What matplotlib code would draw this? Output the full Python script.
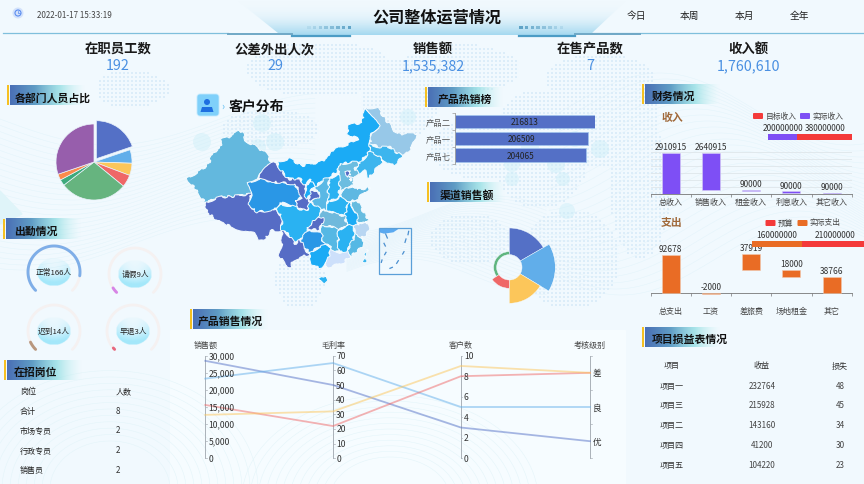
import numpy as np
import matplotlib
matplotlib.use('Agg')
import matplotlib.pyplot as plt
from matplotlib.patches import Polygon, Circle, FancyBboxPatch, Rectangle
from matplotlib.colors import to_rgb

plt.rcParams['font.family'] = ['Noto Sans CJK SC', 'DejaVu Sans']

W, H = 864, 485

# numbers at the top of the board
kpi_names = ['在职员工数', '公差外出人次', '销售额', '在售产品数', '收入额']
kpi_values = ['192', '29', '1,535,382', '7', '1,760,610']
periods = ['今日', '本周', '本月', '全年']

# department share pie
dept_people = [38, 11, 10, 10, 55, 5, 5, 58]
dept_colors = ['#5470c6', '#61aeea', '#fcc65a', '#ef6767', '#66b47f', '#3daa7c', '#fb8b4c', '#975eac']

# attendance
att_names = ['正常', '请假', '迟到', '早退']
att_values = [166, 9, 14, 3]
att_total = 192
att_colors = ['#7eaee8', '#d784e6', '#b8977e', '#e8687e']

# open positions
job_head = ['岗位', '人数']
job_names = ['合计', '市场专员', '行政专员', '销售员']
job_counts = [8, 2, 2, 2]

# hot products
hot_names = ['产品二', '产品一', '产品七']
hot_values = [216813, 206509, 204065]

# channel rose
channel_radius = [39.3, 46, 36, 21, 15.7]
channel_angle = [60, 61, 59, 55, 125]
channel_colors = ['#5470c6', '#61aeea', '#fcc65a', '#ef6767', '#5fb57f']

# income waterfall
income_names = ['总收入', '销售收入', '租金收入', '利息收入', '其它收入']
income_values = [2910915, 2640915, 90000, 90000, 90000]
income_bottoms = [0, 270000, 180000, 90000, 0]
income_target = 200000000
income_actual = 380000000

# expense waterfall
cost_names = ['总支出', '工资', '差旅费', '场地租金', '其它']
cost_labels = [92678, -2000, 37919, 18000, 38766]
cost_bottoms = [0, -2000, 56759, 38766, 0]
cost_tops = [92678, 0, 94678, 56766, 38766]
cost_budget = 160000000
cost_actual = 210000000

# parallel chart
par_names = ['销售额', '毛利率', '客户数', '考核级别']
par_max = [30000, 70, 10]
par_blue = [28500, 50, 3, '优']
par_light = [23300, 65, 5, '良']
par_red = [15600, 22, 8, '差']
par_yellow = [12700, 32, 9, '差']
par_levels = ['优', '良', '差']
par_ticks = [[0, 5000, 10000, 15000, 20000, 25000, 30000], [0, 10, 20, 30, 40, 50, 60, 70], [0, 2, 4, 6, 8, 10]]

# project table
proj_head = ['项目', '收益', '损失']
proj_names = ['项目一', '项目三', '项目二', '项目四', '项目五']
proj_income = [232764, 215928, 143160, 41200, 104220]
proj_loss = [48, 45, 34, 30, 23]

# province outlines
provinces = {
    '新疆': ('#63b8de', [(22,280),(60,262),(85,240),(100,205),(120,195),(125,165),(160,155),(175,135),(190,150),(195,170),(225,185),(255,205),(275,235),(240,270),(235,285),(205,295),(215,330),(180,335),(120,340),(75,355),(50,320),(25,290)]),
    '西藏': ('#566cc5', [(75,355),(120,340),(180,335),(215,330),(205,360),(230,385),(290,375),(305,400),(305,440),(275,440),(255,465),(235,468),(220,445),(170,435),(120,415),(80,385)]),
    '青海': ('#2a97e6', [(205,295),(235,285),(290,295),(345,300),(365,340),(345,350),(360,375),(330,365),(300,355),(290,375),(230,385),(205,360),(215,330)]),
    '甘肃': ('#566cc5', [(275,235),(290,230),(295,250),(325,285),(360,285),(378,310),(375,335),(392,355),(380,380),(360,375),(345,350),(365,340),(345,300),(290,295),(235,285),(240,270)]),
    '甘肃东': ('#566cc5', [(393,320),(415,318),(418,340),(395,352),(385,345)]),
    '内蒙古': ('#1babf5', [(290,232),(330,225),(365,245),(420,235),(450,215),(455,200),(495,185),(535,165),(500,150),(505,125),(545,115),(555,72),(575,90),(585,100),(600,125),(575,150),(570,180),(568,205),(540,235),(510,235),(480,240),(470,265),(435,285),(403,310),(390,285),(378,308),(360,285),(325,285),(295,250)]),
    '黑龙江': ('#97c8e8', [(555,72),(590,70),(620,110),(650,150),(710,148),(695,190),(668,218),(650,205),(630,190),(600,190),(570,180),(575,150),(600,125),(585,100)]),
    '吉林': ('#3cb5ee', [(570,180),(600,190),(630,190),(650,205),(668,218),(640,245),(610,228),(590,212),(568,205)]),
    '辽宁': ('#3cb5ee', [(540,235),(568,205),(590,212),(610,228),(585,258),(565,285),(560,260),(545,262),(532,270),(525,255)]),
    '河北': ('#6cbde0', [(480,240),(510,235),(540,235),(525,255),(535,270),(520,285),(515,295),(520,305),(495,312),(480,318),(478,290),(475,268)]),
    '北京': ('#566cc5', [(498,262),(510,258),(514,272),(502,276)]),
    '天津': ('#566cc5', [(510,278),(518,280),(516,292),(508,290)]),
    '山西': ('#2ab2f2', [(447,285),(475,268),(478,290),(480,318),(470,345),(442,352),(445,320)]),
    '陕西': ('#5ab8e5', [(403,310),(435,285),(447,285),(445,320),(442,352),(442,378),(425,378),(392,355),(418,340),(415,318)]),
    '宁夏': ('#1babf5', [(378,308),(390,285),(403,310),(393,320),(385,345),(375,335)]),
    '河南': ('#2ab2f2', [(442,352),(470,345),(480,340),(490,340),(510,355),(500,372),(495,395),(470,392),(442,378)]),
    '山东': ('#5eb8e2', [(495,312),(520,305),(530,318),(572,310),(545,332),(530,345),(510,355),(490,340),(480,340),(490,325)]),
    '江苏': ('#66bce0', [(510,355),(530,345),(545,375),(565,405),(558,410),(535,420),(530,395),(522,375)]),
    '安徽': ('#1babf5', [(510,355),(522,375),(530,395),(535,420),(520,430),(500,422),(495,395),(500,372)]),
    '湖北': ('#6fb9dc', [(425,378),(442,378),(470,392),(495,395),(500,422),(475,440),(450,425),(425,425),(415,395)]),
    '重庆': ('#566cc5', [(392,395),(415,395),(430,405),(425,425),(412,440),(395,435),(380,430),(395,418)]),
    '四川': ('#2ab2f2', [(300,360),(330,365),(360,375),(380,380),(392,355),(425,378),(415,395),(395,418),(380,430),(385,445),(362,465),(345,480),(330,460),(315,440),(305,440),(305,400),(290,375)]),
    '贵州': ('#2a97e6', [(385,440),(412,440),(425,445),(428,470),(445,482),(415,490),(390,505),(370,490),(362,465)]),
    '云南': ('#566cc5', [(305,440),(315,440),(330,460),(345,480),(362,465),(370,490),(388,512),(360,520),(340,530),(330,550),(315,540),(295,510),(305,480)]),
    '广西': ('#1babf5', [(390,505),(415,490),(445,482),(455,495),(445,520),(435,545),(415,552),(395,540),(388,515)]),
    '广东': ('#cde0fb', [(455,495),(480,505),(500,500),(515,515),(490,535),(460,545),(435,552),(445,520)]),
    '湖南': ('#55b8e4', [(425,425),(450,425),(475,440),(475,490),(480,505),(455,495),(445,482),(428,470),(425,445)]),
    '江西': ('#2ab2f2', [(475,440),(500,422),(520,430),(527,450),(515,475),(502,500),(480,505),(475,490)]),
    '浙江': ('#b8d6f2', [(535,420),(558,410),(568,440),(550,462),(527,450),(520,430)]),
    '福建': ('#55b8e4', [(527,450),(550,462),(545,490),(515,515),(502,500),(515,475)]),
    '台湾': ('#3cb5ee', [(560,497),(566,500),(556,535),(548,530)]),
    '海南': ('#2ab2f2', [(420,580),(440,572),(443,585),(430,598),(418,592)]),
}

# headers of the panels: text, x of yellow bar, top of tab, x of text
tabs = [('各部门人员占比', 7, 86, 15), ('出勤情况', 3, 220, 14), ('在招岗位', 4, 361, 14), ('产品销售情况', 190, 310, 198),
        ('产品热销榜', 425, 88, 438), ('渠道销售额', 427, 183, 440), ('财务情况', 642, 85, 652), ('项目损益表情况', 642, 328, 652)]
att_centers = [(54, 273), (135, 275), (54, 332), (133, 332)]


def px_axes(x0, y0, x1, y1, **kw):
    a = fig.add_axes([x0 / W, 1 - y1 / H, (x1 - x0) / W, (y1 - y0) / H], **kw)
    a.patch.set_alpha(0)
    return a


def grad(stops, horizontal=True, n=128):
    # stops are (colour, alpha)
    t = np.linspace(0, len(stops) - 1, n)
    rgba = np.zeros((n, 4))
    for k in range(4):
        vals = [(list(to_rgb(c)) + [al])[k] for c, al in stops]
        rgba[:, k] = np.interp(t, np.arange(len(stops)), vals)
    return rgba[None, :, :] if horizontal else rgba[:, None, :]


fig = plt.figure(figsize=(W / 100, H / 100), dpi=100, facecolor='#f1f9fe')
bg = fig.add_axes([0, 0, 1, 1])
bg.axis('off')

# soft waves and lighter panels in the background
xs = np.linspace(0, W, 300)
for i in range(26):
    bg.plot(xs[:110], 120 + i * 5 + 26 * np.sin(xs[:110] / 70 + i * .05), color='#cdebf6', lw=.35, alpha=.4, zorder=1)
    bg.plot(xs[190:], 110 + i * 6 + 36 * np.sin(xs[190:] / 60 - i * .1), color='#cdebf6', lw=.35, alpha=.4, zorder=1)
    bg.plot(xs[120:190], 215 + i * 2.5 + 18 * np.sin(xs[120:190] / 45 + i * .08), color='#d6edf7', lw=.35, alpha=.5, zorder=1)
bg.add_patch(Polygon([(0, 192), (22, 215), (0, 225)], color='#dff4f9', zorder=1))
bg.add_patch(Rectangle((170, 331), 455, 154, color='#f6fcff', zorder=1.2))
for rr in range(60, 150, 8):
    th = np.linspace(np.pi, 2 * np.pi, 80)
    bg.plot(110 + rr * np.cos(th), 490 + rr * np.sin(th) * .8, color='#e2f4f9', lw=.35, zorder=1.3)
    bg.plot(390 + rr * np.cos(th), 500 + rr * np.sin(th) * .7, color='#e2f4f9', lw=.35, zorder=1.3)

# dotted world map behind everything
blobs = [(320, 70, 75, 28), (400, 100, 40, 40), (270, 130, 50, 20), (460, 70, 60, 25), (540, 150, 50, 60), (600, 120, 60, 50),
         (640, 190, 30, 70), (480, 150, 50, 30), (570, 260, 50, 50), (300, 280, 25, 30), (130, 90, 40, 18), (470, 240, 40, 25), (600, 80, 55, 25)]
gx, gy = np.meshgrid(np.arange(100, 680, 4), np.arange(38, 330, 4))
mask = np.zeros(gx.shape, dtype=bool)
for cx, cy, rx, ry in blobs:
    mask |= ((gx - cx) / rx) ** 2 + ((gy - cy) / ry) ** 2 < 1
bg.scatter(gx[mask], gy[mask], s=3, marker='s', color='#dcedf9', lw=0, zorder=1.5)
for cx, cy, r in [(262, 124, 9), (202, 143, 9), (275, 143, 9), (258, 148, 8), (408, 118, 8), (512, 165, 8), (600, 150, 9), (575, 140, 8),
                  (567, 212, 8), (512, 180, 7), (556, 165, 9), (530, 148, 9), (563, 180, 7)]:
    bg.add_patch(Circle((cx, cy), r, color='#c8edf7', alpha=.4, lw=0, zorder=1.6))

# title banner
band = bg.imshow(grad([('#f1f9fe', 0), ('#dcf0fa', .7), ('#a4d9f0', 1)], horizontal=False), extent=[230, 640, 36, 2], aspect='auto', zorder=2)
band.set_clip_path(Polygon([(238, 2), (278, 34), (292, 36), (575, 36), (592, 34), (626, 2)], transform=bg.transData))
bg.plot([3, 228], [34, 34], color='#7fbfdc', lw=.9, zorder=3)
bg.plot([592, 864], [34, 34], color='#7fbfdc', lw=.9, zorder=3)
bg.plot([228, 292], [34.5, 34.5], color='#6fa8c6', lw=1.4, zorder=3)
bg.plot([292, 350], [36.5, 36.5], color='#4b9cc5', lw=1.6, zorder=3)
bg.plot([519, 575], [36.5, 36.5], color='#4b9cc5', lw=1.6, zorder=3)
bg.plot([575, 640], [34.5, 34.5], color='#6fa8c6', lw=1.4, zorder=3)
for i in range(8):
    bg.add_patch(Rectangle((307 + i * 5.8, 26.5), 3.6, 3.6, color='#5aa0c4', alpha=.15 + i * .11, lw=0, zorder=3))
    bg.add_patch(Rectangle((519 + i * 5.8, 26.5), 3.6, 3.6, color='#5aa0c4', alpha=.95 - i * .11, lw=0, zorder=3))

bg.add_patch(Circle((18, 14), 5.5, color='#d3e2fb', lw=0, zorder=3))
bg.add_patch(Circle((18, 14), 3, fc='none', ec='#5a8df0', lw=.8, zorder=4))
bg.plot([18, 18, 19.5], [12.3, 14, 14], color='#5a8df0', lw=.5, zorder=4)
bg.text(37, 15, '2022-01-17 15:33:19', fontsize=5.8, color='#444444', va='center', zorder=5)
bg.text(437, 18, '公司整体运营情况', fontsize=11.6, fontweight='bold', color='#111111', ha='center', va='center', zorder=5)
for name, x in zip(periods, [636, 689, 744, 799]):
    bg.text(x, 16, name, fontsize=7, color='#222222', fontweight='medium', ha='center', va='center', zorder=5)
for name, val, x in zip(kpi_names, kpi_values, [118, 275, 433, 590, 748]):
    bg.text(x, 49, name, fontsize=9.6, fontweight='bold', color='#1a1a1a', ha='center', va='center', zorder=5)
    bg.text(x, 66, val, fontsize=10.3, color='#4a90e2', fontweight='medium', ha='center', va='center', zorder=5)

# panel tabs
for text, bx, ty, tx in tabs:
    bg.imshow(grad([('#4a6fb5', 1), ('#5f9cc5', 1), ('#8fdde2', .75), ('#c9f2f2', 0)]), extent=[bx + 3, bx + 78, ty + 20, ty], aspect='auto', zorder=2.5)
    bg.add_patch(Rectangle((bx, ty), 2, 20, color='#f5c022', lw=0, zorder=3))
    bg.text(tx, ty + 12, text, fontsize=7.8, color='#111111', fontweight='bold', va='center', zorder=5)

# pie
ax = px_axes(94 - 45, 163 - 45, 94 + 45, 163 + 45)
ax.pie(dept_people, colors=dept_colors, startangle=90, counterclock=False, radius=38 / 45,
       explode=[.09] + [0] * 7, wedgeprops={'edgecolor': '#eaf3fb', 'linewidth': .5})
ax.set_xlim(-1, 1)
ax.set_ylim(-1, 1)

# attendance gauges
for name, val, color, (cx, cy) in zip(att_names, att_values, att_colors, att_centers):
    th = np.radians(225 - 270 * np.linspace(0, 1, 80))
    bg.plot(cx + 26 * np.cos(th), cy - 26 * np.sin(th), color='#f5f1f1', lw=2, solid_capstyle='round', zorder=3)
    th = np.radians(225 - 270 * np.linspace(0, max(val / att_total, .008), 80))
    bg.plot(cx + 26 * np.cos(th), cy - 26 * np.sin(th), color=color, lw=2.1, solid_capstyle='round', zorder=3.2)
    yy, xx = np.mgrid[-1:1:60j, -1:1:60j]
    rr = np.sqrt(xx ** 2 + yy ** 2)
    disk = np.zeros((60, 60, 4))
    disk[..., :3] = to_rgb('#9be6fa')
    disk[..., 3] = np.clip(rr * .45 + (yy + .3) * .55, 0, .9) * (rr < 1)
    bg.imshow(disk, extent=[cx - 17, cx + 17, cy + 14, cy - 14], aspect='auto', zorder=3, interpolation='bilinear')
    bg.text(cx, cy, f'{name}{val}人', fontsize=5.6, color='#222222', ha='center', va='center', zorder=5)

# open positions table
for s, x in zip(job_head, [20, 116]):
    bg.text(x, 392, s, fontsize=5.8, color='#222222', fontweight='medium', va='center', zorder=5)
for name, n, y in zip(job_names, job_counts, [412, 431, 451, 471]):
    bg.text(20, y, name, fontsize=5.8, color='#222222', fontweight='medium', va='center', zorder=5)
    bg.text(116, y, str(n), fontsize=5.8, color='#333333', va='center', zorder=5)

# customer map
bg.add_patch(FancyBboxPatch((198, 96), 20, 20, boxstyle='round,pad=1,rounding_size=3', fc='#7fd0fa', ec='#c3eafd', lw=.6, zorder=3))
bg.add_patch(Circle((207, 103), 3, color='#1e6fe0', lw=0, zorder=4))
bg.add_patch(Polygon([(200.5, 113), (202, 108), (212, 108), (213.5, 113)], color='#1e6fe0', lw=0, zorder=4))
bg.text(223, 107, '›', fontsize=7, color='#55b8f0', ha='center', va='center', zorder=4)
bg.text(229, 107, '客户分布', fontsize=10, fontweight='bold', color='#111111', va='center', zorder=5)

ax = px_axes(180, 85, 430, 285)
for name, (color, pts) in provinces.items():
    p = Polygon(pts, closed=True, fc=color, ec='#f4fbff', lw=.7, joinstyle='round')
    p.set_sketch_params(scale=1.2, length=30, randomness=12)
    ax.add_patch(p)
ax.add_patch(Polygon([(598, 435), (655, 435), (640, 445), (612, 449), (598, 445)], fc='#5aa9f0', lw=0))
ax.add_patch(Rectangle((596, 433), 96, 137, fc='none', ec='#5a9fd8', lw=.9))
for p, q in [((617, 450), (622, 462)), ((612, 478), (616, 486)), ((618, 505), (614, 512)), ((606, 528), (604, 535)), ((630, 553), (637, 550)),
             ((655, 530), (650, 538)), ((672, 503), (668, 510)), ((678, 465), (675, 475)), ((686, 442), (684, 452))]:
    ax.plot([p[0], q[0]], [p[1], q[1]], color='#4a8fd0', lw=.9)
ax.set_xlim(0, 750)
ax.set_ylim(600, 0)
ax.axis('off')

# hot products
ax = px_axes(454.7, 114, 594.7, 164.5)
ax.barh(range(3), hot_values, height=.8, color='#5470c6', edgecolor='#a3c6ee', linewidth=.5)
for i, v in enumerate(hot_values):
    ax.text(v / 2, i, str(v), fontsize=6, color='#222222', ha='center', va='center')
ax.set_xlim(0, hot_values[0])
ax.set_ylim(2.5, -.5)
ax.set_yticks([-.5, .5, 1.5, 2.5])
ax.set_yticklabels([])
ax.set_yticks(range(3), minor=True)
ax.set_yticklabels(hot_names, minor=True, fontsize=6, color='#555555')
ax.tick_params(axis='y', which='minor', length=0, pad=3)
ax.tick_params(axis='y', which='major', length=2.5, width=.5, color='#999999')
ax.set_xticks([])
for s in ['top', 'right', 'bottom']:
    ax.spines[s].set_visible(False)
ax.spines['left'].set_color('#999999')
ax.spines['left'].set_linewidth(.6)

# channel rose
ax = px_axes(509.3 - 46, 268.3 - 46, 509.3 + 46, 268.3 + 46, projection='polar')
ax.set_theta_zero_location('N')
ax.set_theta_direction(-1)
start = 0
for r, w, c in zip(channel_radius, channel_angle, channel_colors):
    ax.bar(np.radians(start), r - 12.7, width=np.radians(w), bottom=12.7, align='edge', color=c, edgecolor='#f4fbff', linewidth=.3)
    start += w
ax.set_rmin(0)
ax.set_rmax(46)
ax.axis('off')

# income
ax = px_axes(650.7, 150, 851.7, 195)
ax.bar(range(5), income_values, bottom=income_bottoms, width=.45, color='#7e4ff5', edgecolor='#d6cdf5', linewidth=.4, zorder=3)
for i, v in enumerate(income_values):
    ax.text(i, income_bottoms[i] + v + 120000, str(v), fontsize=6, color='#333333', ha='center', va='bottom')
ax.set_xlim(-.5, 4.5)
ax.set_ylim(0, 3000000 * 45 / 42.4)
ax.set_yticks(np.arange(0, 3000001, 500000))
ax.set_yticklabels([])
ax.tick_params(axis='y', length=0)
ax.grid(axis='y', color='#dfe6ea', lw=.6, zorder=0)
ax.set_xticks(np.arange(-.5, 5, 1))
ax.set_xticklabels([])
ax.set_xticks(range(5), minor=True)
ax.set_xticklabels(income_names, minor=True, fontsize=5.8, color='#444444')
ax.tick_params(axis='x', which='minor', length=0, pad=2)
ax.tick_params(axis='x', which='major', length=2, width=.5, color='#777777')
for s in ['top', 'right', 'left']:
    ax.spines[s].set_visible(False)
ax.spines['bottom'].set_color('#777777')
ax.spines['bottom'].set_linewidth(.6)

ax = px_axes(768.3, 135.3, 852.3, 141.3)
ax.barh([0], [income_target], height=1, color='#7e4ff5')
ax.barh([0], [income_actual], left=[income_target], height=1, color='#f43a3a')
ax.set_xlim(0, income_target + income_actual)
ax.set_ylim(-.5, .5)
ax.axis('off')
bg.text(783, 128.3, str(income_target), fontsize=6, color='#333333', ha='center', va='center', zorder=5)
bg.text(825, 128.3, str(income_actual), fontsize=6, color='#333333', ha='center', va='center', zorder=5)
bg.text(672, 118, '收入', fontsize=7.8, fontweight='bold', color='#a0693a', ha='center', va='center', zorder=5)
bg.add_patch(FancyBboxPatch((753.5, 114.5), 9, 5, boxstyle='round,pad=.5,rounding_size=1', color='#f43a3a', lw=0, zorder=4))
bg.add_patch(FancyBboxPatch((800.5, 114.5), 9, 5, boxstyle='round,pad=.5,rounding_size=1', color='#7e4ff5', lw=0, zorder=4))
bg.text(781, 116.5, '目标收入', fontsize=5.6, color='#444444', ha='center', va='center', zorder=5)
bg.text(828, 116.5, '实际收入', fontsize=5.6, color='#444444', ha='center', va='center', zorder=5)

# expenses
ax = px_axes(650.7, 250, 851.7, 294.3)
cost_h = np.array(cost_tops) - np.array(cost_bottoms)
ax.bar(range(5), cost_h, bottom=cost_bottoms, width=.45, color='#e96c25', edgecolor='#f2c9ae', linewidth=.4, zorder=3, clip_on=False)
for i, v in enumerate(cost_labels):
    ax.text(i, cost_tops[i] + 5000, str(v), fontsize=6, color='#333333', ha='center', va='bottom', zorder=2)
ax.set_xlim(-.5, 4.5)
ax.set_ylim(0, 92678 * 44.3 / 38.6)
ax.set_yticks([])
ax.set_xticks(np.arange(-.5, 5, 1))
ax.set_xticklabels([])
ax.set_xticks(range(5), minor=True)
ax.set_xticklabels(cost_names, minor=True, fontsize=5.8, color='#444444')
ax.tick_params(axis='x', which='minor', length=0, pad=9)
ax.tick_params(axis='x', which='major', length=2, width=.5, color='#777777')
for s in ['top', 'right', 'left']:
    ax.spines[s].set_visible(False)
ax.spines['bottom'].set_color('#777777')
ax.spines['bottom'].set_linewidth(.6)

ax = px_axes(752, 242.3, 866.9, 248.3)
ax.barh([0], [cost_budget], height=1, color='#e96c25')
ax.barh([0], [cost_actual], left=[cost_budget], height=1, color='#f43a3a')
ax.set_xlim(0, cost_budget + cost_actual)
ax.set_ylim(-.5, .5)
ax.axis('off')
bg.text(777, 235.3, str(cost_budget), fontsize=6, color='#333333', ha='center', va='center', zorder=5)
bg.text(835, 235.3, str(cost_actual), fontsize=6, color='#333333', ha='center', va='center', zorder=5)
bg.text(672, 223, '支出', fontsize=7.8, fontweight='bold', color='#a0693a', ha='center', va='center', zorder=5)
bg.add_patch(FancyBboxPatch((766, 221.5), 9, 5, boxstyle='round,pad=.5,rounding_size=1', color='#f43a3a', lw=0, zorder=4))
bg.add_patch(FancyBboxPatch((798, 221.5), 9, 5, boxstyle='round,pad=.5,rounding_size=1', color='#e96c25', lw=0, zorder=4))
bg.text(785.5, 223.5, '预算', fontsize=5.6, color='#444444', ha='center', va='center', zorder=5)
bg.text(825, 223.5, '实际支出', fontsize=5.6, color='#444444', ha='center', va='center', zorder=5)

# parallel coordinates
ax = px_axes(205.3, 356.7, 588.7, 459.3)
xpos = [0, 1, 2, 3.01]
for row, c in [(par_blue, '#5470c6'), (par_light, '#61aeea'), (par_red, '#ef6767'), (par_yellow, '#fcc65a')]:
    ys = [row[k] / par_max[k] for k in range(3)] + [(par_levels.index(row[3]) + .5) / 3]
    ax.plot(xpos, ys, color=c, lw=1.3, alpha=.5, zorder=3)
for k in range(4):
    ax.plot([xpos[k]] * 2, [0, 1], color='#aab1b8', lw=.7, zorder=2)
    ax.text(xpos[k], 1.11, par_names[k], fontsize=5.8, color='#444444', ha='center', va='center')
    if k < 3:
        for t in par_ticks[k]:
            f = t / par_max[k]
            ax.plot([xpos[k], xpos[k] + .012], [f, f], color='#aab1b8', lw=.5)
            ax.text(xpos[k] + .024, f, f'{t:,}', fontsize=6.2, color='#333333', va='center')
    else:
        for f in [0, 1 / 3, 2 / 3, 1]:
            ax.plot([xpos[k], xpos[k] + .012], [f, f], color='#aab1b8', lw=.5)
        for j, lv in enumerate(par_levels):
            ax.text(xpos[k] + .024, (j + .5) / 3, lv, fontsize=6.2, color='#333333', ha='left', va='center')
ax.set_xlim(0, 3)
ax.set_ylim(0, 1)
ax.axis('off')
for t in ax.texts + ax.lines:
    t.set_clip_on(False)

# project table
for s, x in zip(proj_head, [672, 762, 840]):
    bg.text(x, 366, s, fontsize=5.8, color='#333333', ha='center', va='center', zorder=5)
for name, a, b, y in zip(proj_names, proj_income, proj_loss, [386.3, 406, 425.7, 446, 465.7]):
    bg.text(672, y, name, fontsize=5.8, color='#333333', ha='center', va='center', zorder=5)
    bg.text(762, y, str(a), fontsize=5.8, color='#444444', ha='center', va='center', zorder=5)
    bg.text(840, y, str(b), fontsize=5.8, color='#444444', ha='center', va='center', zorder=5)

bg.set_xlim(0, W)
bg.set_ylim(H, 0)
fig.savefig('out.png', dpi=100, facecolor=fig.get_facecolor())
